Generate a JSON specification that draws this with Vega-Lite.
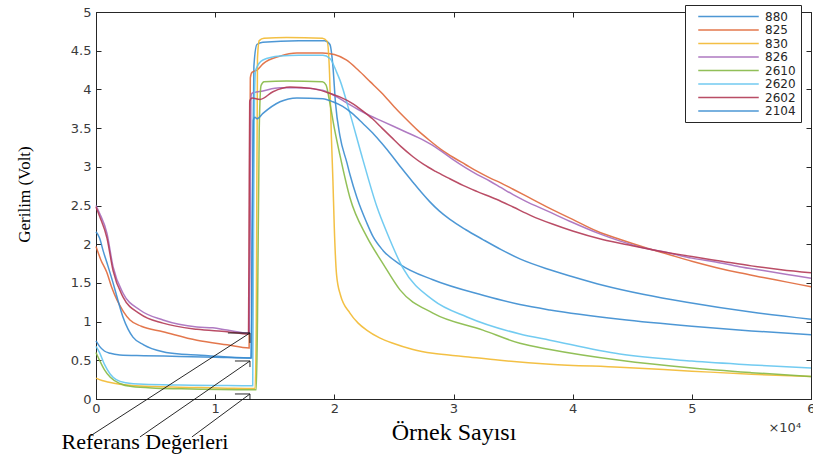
{
  "$schema": "https://vega.github.io/schema/vega-lite/v6.json",
  "width": 715,
  "height": 387,
  "autosize": {"type": "none"},
  "padding": {"left": 96, "top": 12, "right": 2, "bottom": 55},
  "background": "white",
  "config": {
    "view": {"stroke": "#262626", "strokeWidth": 1},
    "axis": {"grid": false, "domainColor": "#262626", "tickColor": "#262626", "labelColor": "#3a3a3a", "labelFont": "DejaVu Sans", "labelFontSize": 13}
  },
  "resolve": {"axis": {"x": "independent", "y": "independent"}},
  "layer": [
    {
      "data": {"values": [
        {"s":"880","x":0,"y":0.75},{"s":"880","x":300,"y":0.68},{"s":"880","x":700,"y":0.62},{"s":"880","x":1200,"y":0.59},{"s":"880","x":2000,"y":0.57},{"s":"880","x":4000,"y":0.56},{"s":"880","x":7000,"y":0.55},{"s":"880","x":10000,"y":0.54},{"s":"880","x":13000,"y":0.53},{"s":"880","x":13100,"y":2.0},{"s":"880","x":13250,"y":4.3},{"s":"880","x":13500,"y":4.58},{"s":"880","x":14000,"y":4.61},{"s":"880","x":17000,"y":4.63},{"s":"880","x":19200,"y":4.63},{"s":"880","x":19630,"y":4.58},{"s":"880","x":19880,"y":4.3},{"s":"880","x":20100,"y":3.82},{"s":"880","x":20470,"y":3.4},{"s":"880","x":21060,"y":3.05},{"s":"880","x":21310,"y":2.9},{"s":"880","x":21900,"y":2.6},{"s":"880","x":22710,"y":2.28},{"s":"880","x":23240,"y":2.1},{"s":"880","x":24080,"y":1.92},{"s":"880","x":25510,"y":1.74},{"s":"880","x":28270,"y":1.54},{"s":"880","x":32470,"y":1.34},{"s":"880","x":35570,"y":1.22},{"s":"880","x":38090,"y":1.15},{"s":"880","x":43960,"y":1.03},{"s":"880","x":50000,"y":0.94},{"s":"880","x":55000,"y":0.88},{"s":"880","x":60000,"y":0.83},
        {"s":"825","x":0,"y":1.97},{"s":"825","x":400,"y":1.8},{"s":"825","x":920,"y":1.63},{"s":"825","x":1300,"y":1.45},{"s":"825","x":1760,"y":1.28},{"s":"825","x":2300,"y":1.13},{"s":"825","x":2850,"y":1.02},{"s":"825","x":3800,"y":0.94},{"s":"825","x":5620,"y":0.87},{"s":"825","x":8470,"y":0.76},{"s":"825","x":11000,"y":0.7},{"s":"825","x":12850,"y":0.66},{"s":"825","x":12900,"y":2.5},{"s":"825","x":12950,"y":4.15},{"s":"825","x":13090,"y":4.22},{"s":"825","x":13510,"y":4.25},{"s":"825","x":14010,"y":4.33},{"s":"825","x":15440,"y":4.43},{"s":"825","x":16860,"y":4.47},{"s":"825","x":19000,"y":4.47},{"s":"825","x":20000,"y":4.45},{"s":"825","x":21000,"y":4.38},{"s":"825","x":22000,"y":4.25},{"s":"825","x":23000,"y":4.1},{"s":"825","x":24000,"y":3.95},{"s":"825","x":25000,"y":3.78},{"s":"825","x":26000,"y":3.62},{"s":"825","x":27000,"y":3.47},{"s":"825","x":28000,"y":3.34},{"s":"825","x":29000,"y":3.22},{"s":"825","x":30000,"y":3.12},{"s":"825","x":31000,"y":3.03},{"s":"825","x":32000,"y":2.94},{"s":"825","x":33000,"y":2.86},{"s":"825","x":34000,"y":2.79},{"s":"825","x":35000,"y":2.71},{"s":"825","x":36000,"y":2.63},{"s":"825","x":38000,"y":2.47},{"s":"825","x":40000,"y":2.32},{"s":"825","x":42000,"y":2.17},{"s":"825","x":44000,"y":2.06},{"s":"825","x":46000,"y":1.96},{"s":"825","x":48000,"y":1.87},{"s":"825","x":50000,"y":1.78},{"s":"825","x":52000,"y":1.7},{"s":"825","x":54000,"y":1.63},{"s":"825","x":56000,"y":1.57},{"s":"825","x":58000,"y":1.51},{"s":"825","x":60000,"y":1.45},
        {"s":"830","x":0,"y":0.27},{"s":"830","x":500,"y":0.24},{"s":"830","x":1000,"y":0.22},{"s":"830","x":2000,"y":0.19},{"s":"830","x":3000,"y":0.175},{"s":"830","x":5000,"y":0.16},{"s":"830","x":8000,"y":0.15},{"s":"830","x":11000,"y":0.14},{"s":"830","x":13350,"y":0.135},{"s":"830","x":13450,"y":1.0},{"s":"830","x":13550,"y":4.4},{"s":"830","x":13700,"y":4.63},{"s":"830","x":14100,"y":4.66},{"s":"830","x":16000,"y":4.67},{"s":"830","x":19000,"y":4.66},{"s":"830","x":19400,"y":4.62},{"s":"830","x":19600,"y":4.2},{"s":"830","x":19750,"y":3.4},{"s":"830","x":19880,"y":2.83},{"s":"830","x":20000,"y":2.2},{"s":"830","x":20190,"y":1.6},{"s":"830","x":20500,"y":1.35},{"s":"830","x":21310,"y":1.11},{"s":"830","x":22000,"y":0.98},{"s":"830","x":22710,"y":0.89},{"s":"830","x":23800,"y":0.79},{"s":"830","x":24920,"y":0.72},{"s":"830","x":26600,"y":0.64},{"s":"830","x":28270,"y":0.59},{"s":"830","x":30800,"y":0.55},{"s":"830","x":33900,"y":0.5},{"s":"830","x":38090,"y":0.45},{"s":"830","x":43960,"y":0.41},{"s":"830","x":50000,"y":0.36},{"s":"830","x":55000,"y":0.32},{"s":"830","x":60000,"y":0.29},
        {"s":"826","x":0,"y":2.5},{"s":"826","x":300,"y":2.4},{"s":"826","x":920,"y":2.14},{"s":"826","x":1430,"y":1.71},{"s":"826","x":2260,"y":1.37},{"s":"826","x":3690,"y":1.15},{"s":"826","x":5620,"y":1.02},{"s":"826","x":8470,"y":0.93},{"s":"826","x":9800,"y":0.92},{"s":"826","x":11000,"y":0.89},{"s":"826","x":12850,"y":0.85},{"s":"826","x":12950,"y":2.5},{"s":"826","x":13000,"y":3.9},{"s":"826","x":13090,"y":3.95},{"s":"826","x":14010,"y":3.98},{"s":"826","x":15440,"y":4.02},{"s":"826","x":16860,"y":4.02},{"s":"826","x":19000,"y":3.99},{"s":"826","x":20000,"y":3.92},{"s":"826","x":21000,"y":3.83},{"s":"826","x":22000,"y":3.74},{"s":"826","x":23000,"y":3.66},{"s":"826","x":24000,"y":3.59},{"s":"826","x":25000,"y":3.52},{"s":"826","x":26000,"y":3.45},{"s":"826","x":27000,"y":3.38},{"s":"826","x":28000,"y":3.3},{"s":"826","x":29000,"y":3.2},{"s":"826","x":30000,"y":3.09},{"s":"826","x":31000,"y":2.99},{"s":"826","x":32000,"y":2.9},{"s":"826","x":33000,"y":2.82},{"s":"826","x":34000,"y":2.73},{"s":"826","x":35000,"y":2.64},{"s":"826","x":36000,"y":2.56},{"s":"826","x":38000,"y":2.42},{"s":"826","x":40000,"y":2.28},{"s":"826","x":42000,"y":2.15},{"s":"826","x":44000,"y":2.04},{"s":"826","x":46000,"y":1.95},{"s":"826","x":48000,"y":1.89},{"s":"826","x":50000,"y":1.82},{"s":"826","x":52000,"y":1.77},{"s":"826","x":54000,"y":1.71},{"s":"826","x":56000,"y":1.66},{"s":"826","x":58000,"y":1.61},{"s":"826","x":60000,"y":1.56},
        {"s":"2610","x":0,"y":0.6},{"s":"2610","x":300,"y":0.5},{"s":"2610","x":700,"y":0.38},{"s":"2610","x":1200,"y":0.28},{"s":"2610","x":2000,"y":0.2},{"s":"2610","x":3000,"y":0.16},{"s":"2610","x":5000,"y":0.14},{"s":"2610","x":8000,"y":0.13},{"s":"2610","x":13450,"y":0.12},{"s":"2610","x":13550,"y":1.0},{"s":"2610","x":13700,"y":3.5},{"s":"2610","x":13850,"y":4.05},{"s":"2610","x":14100,"y":4.1},{"s":"2610","x":16000,"y":4.11},{"s":"2610","x":19000,"y":4.1},{"s":"2610","x":19300,"y":4.06},{"s":"2610","x":19630,"y":3.82},{"s":"2610","x":20000,"y":3.5},{"s":"2610","x":20470,"y":3.15},{"s":"2610","x":21310,"y":2.6},{"s":"2610","x":22710,"y":2.1},{"s":"2610","x":24080,"y":1.75},{"s":"2610","x":25510,"y":1.41},{"s":"2610","x":28270,"y":1.11},{"s":"2610","x":32470,"y":0.89},{"s":"2610","x":35570,"y":0.72},{"s":"2610","x":38090,"y":0.64},{"s":"2610","x":43960,"y":0.5},{"s":"2610","x":50000,"y":0.4},{"s":"2610","x":55000,"y":0.34},{"s":"2610","x":60000,"y":0.29},
        {"s":"2620","x":0,"y":0.68},{"s":"2620","x":300,"y":0.6},{"s":"2620","x":700,"y":0.45},{"s":"2620","x":1200,"y":0.32},{"s":"2620","x":1700,"y":0.25},{"s":"2620","x":2500,"y":0.21},{"s":"2620","x":4000,"y":0.19},{"s":"2620","x":7000,"y":0.18},{"s":"2620","x":10000,"y":0.175},{"s":"2620","x":13150,"y":0.17},{"s":"2620","x":13200,"y":1.5},{"s":"2620","x":13300,"y":3.9},{"s":"2620","x":13400,"y":4.25},{"s":"2620","x":14010,"y":4.38},{"s":"2620","x":15440,"y":4.43},{"s":"2620","x":17000,"y":4.44},{"s":"2620","x":19040,"y":4.44},{"s":"2620","x":19630,"y":4.4},{"s":"2620","x":20200,"y":4.22},{"s":"2620","x":20470,"y":4.12},{"s":"2620","x":21310,"y":3.69},{"s":"2620","x":22400,"y":3.09},{"s":"2620","x":23580,"y":2.48},{"s":"2620","x":24410,"y":2.15},{"s":"2620","x":25760,"y":1.69},{"s":"2620","x":28270,"y":1.28},{"s":"2620","x":31130,"y":1.06},{"s":"2620","x":35570,"y":0.84},{"s":"2620","x":38090,"y":0.76},{"s":"2620","x":43960,"y":0.58},{"s":"2620","x":50000,"y":0.49},{"s":"2620","x":55000,"y":0.44},{"s":"2620","x":60000,"y":0.4},
        {"s":"2602","x":0,"y":2.48},{"s":"2602","x":300,"y":2.36},{"s":"2602","x":920,"y":2.08},{"s":"2602","x":1430,"y":1.66},{"s":"2602","x":2260,"y":1.32},{"s":"2602","x":3690,"y":1.1},{"s":"2602","x":5620,"y":0.98},{"s":"2602","x":8470,"y":0.9},{"s":"2602","x":11000,"y":0.87},{"s":"2602","x":12800,"y":0.84},{"s":"2602","x":12850,"y":2.5},{"s":"2602","x":12900,"y":3.85},{"s":"2602","x":13090,"y":3.89},{"s":"2602","x":13760,"y":3.87},{"s":"2602","x":14850,"y":3.97},{"s":"2602","x":16280,"y":4.03},{"s":"2602","x":18210,"y":4.01},{"s":"2602","x":19400,"y":3.96},{"s":"2602","x":20500,"y":3.9},{"s":"2602","x":21500,"y":3.82},{"s":"2602","x":22400,"y":3.72},{"s":"2602","x":23200,"y":3.62},{"s":"2602","x":24000,"y":3.5},{"s":"2602","x":24800,"y":3.38},{"s":"2602","x":25600,"y":3.26},{"s":"2602","x":26600,"y":3.13},{"s":"2602","x":27500,"y":3.03},{"s":"2602","x":28500,"y":2.94},{"s":"2602","x":29500,"y":2.86},{"s":"2602","x":30800,"y":2.76},{"s":"2602","x":32000,"y":2.68},{"s":"2602","x":33600,"y":2.58},{"s":"2602","x":35000,"y":2.48},{"s":"2602","x":36500,"y":2.37},{"s":"2602","x":38300,"y":2.26},{"s":"2602","x":40000,"y":2.17},{"s":"2602","x":42500,"y":2.06},{"s":"2602","x":45000,"y":1.98},{"s":"2602","x":47000,"y":1.92},{"s":"2602","x":50000,"y":1.84},{"s":"2602","x":52500,"y":1.78},{"s":"2602","x":55000,"y":1.72},{"s":"2602","x":57500,"y":1.67},{"s":"2602","x":60000,"y":1.63},
        {"s":"2104","x":0,"y":2.16},{"s":"2104","x":300,"y":2.08},{"s":"2104","x":590,"y":1.92},{"s":"2104","x":1000,"y":1.72},{"s":"2104","x":1430,"y":1.5},{"s":"2104","x":1850,"y":1.27},{"s":"2104","x":2260,"y":1.06},{"s":"2104","x":2700,"y":0.9},{"s":"2104","x":3100,"y":0.8},{"s":"2104","x":4000,"y":0.7},{"s":"2104","x":5620,"y":0.61},{"s":"2104","x":7000,"y":0.58},{"s":"2104","x":8470,"y":0.57},{"s":"2104","x":12900,"y":0.53},{"s":"2104","x":13050,"y":0.53},{"s":"2104","x":13100,"y":2.0},{"s":"2104","x":13200,"y":3.6},{"s":"2104","x":13340,"y":3.64},{"s":"2104","x":13510,"y":3.62},{"s":"2104","x":14010,"y":3.69},{"s":"2104","x":15440,"y":3.84},{"s":"2104","x":16860,"y":3.89},{"s":"2104","x":19040,"y":3.88},{"s":"2104","x":19880,"y":3.84},{"s":"2104","x":20700,"y":3.78},{"s":"2104","x":21500,"y":3.69},{"s":"2104","x":22400,"y":3.56},{"s":"2104","x":23200,"y":3.44},{"s":"2104","x":24000,"y":3.3},{"s":"2104","x":24800,"y":3.15},{"s":"2104","x":25600,"y":2.99},{"s":"2104","x":26600,"y":2.8},{"s":"2104","x":27300,"y":2.67},{"s":"2104","x":28000,"y":2.55},{"s":"2104","x":28800,"y":2.43},{"s":"2104","x":29700,"y":2.32},{"s":"2104","x":31000,"y":2.19},{"s":"2104","x":32470,"y":2.06},{"s":"2104","x":34000,"y":1.93},{"s":"2104","x":35570,"y":1.81},{"s":"2104","x":38090,"y":1.67},{"s":"2104","x":40000,"y":1.58},{"s":"2104","x":42530,"y":1.47},{"s":"2104","x":46000,"y":1.35},{"s":"2104","x":49580,"y":1.25},{"s":"2104","x":55110,"y":1.12},{"s":"2104","x":60000,"y":1.03}
      ]},
      "mark": {"type": "line", "strokeWidth": 1.5, "interpolate": "monotone", "opacity": 0.9},
      "encoding": {
        "x": {"field": "x", "type": "quantitative", "scale": {"domain": [0, 60000], "nice": false, "zero": false},
          "axis": {"values": [0,10000,20000,30000,40000,50000,60000], "labelExpr": "'' + datum.value/10000", "tickSize": -5, "labelPadding": 8, "labelFlush": false,
            "title": "Örnek Sayısı", "titleFont": "Liberation Serif", "titleFontSize": 24, "titleFontWeight": "normal", "titleColor": "#000000", "titlePadding": 5}},
        "y": {"field": "y", "type": "quantitative", "scale": {"domain": [0, 5], "nice": false, "zero": false},
          "axis": {"values": [0,0.5,1,1.5,2,2.5,3,3.5,4,4.5,5], "labelExpr": "'' + datum.value", "tickSize": -5, "labelPadding": 10,
            "title": "Gerilim (Volt)", "titleFont": "Liberation Serif", "titleFontSize": 17, "titleFontWeight": "normal", "titleColor": "#000000",
            "titleX": -72, "titleY": 182, "titleAngle": -90, "titleAlign": "center", "titleBaseline": "middle"}},
        "color": {"field": "s", "type": "nominal",
          "scale": {"domain": ["880","825","830","826","2610","2620","2602","2104"],
                    "range": ["#3a8cd0","#e0683a","#f2b930","#a66bbb","#86b946","#63c5ef","#b23a55","#3a8cd0"]},
          "legend": {"title": null, "orient": "none", "legendX": 589, "legendY": -7,
            "symbolType": "M-5.5,0H5.5", "symbolSize": 121, "symbolStrokeWidth": 1.5, "symbolOffset": 32, "labelOffset": 30,
            "padding": 5, "rowPadding": 0.5, "fillColor": "white", "strokeColor": "#262626",
            "labelFont": "DejaVu Sans", "labelFontSize": 12, "labelColor": "#262626",
            "labelExpr": "datum.label + '\u00a0\u00a0\u00a0'"}}
      }
    },
    {
      "data": {"values": [
        {"x": -600, "y": -0.49, "x2": 12920, "y2": 0.853},
        {"x": 11070, "y": 0.853, "x2": 12920, "y2": 0.853},
        {"x": 12920, "y": 0.853, "x2": 12920, "y2": 0.724},
        {"x": 3690, "y": -0.49, "x2": 12920, "y2": 0.491},
        {"x": 11660, "y": 0.491, "x2": 12920, "y2": 0.491},
        {"x": 12920, "y": 0.491, "x2": 12920, "y2": 0.413},
        {"x": 8050, "y": -0.49, "x2": 12920, "y2": 0.065},
        {"x": 11660, "y": 0.065, "x2": 12920, "y2": 0.065},
        {"x": 12920, "y": 0.065, "x2": 12920, "y2": -0.013}
      ]},
      "mark": {"type": "rule", "color": "#111111", "strokeWidth": 0.9, "clip": false},
      "encoding": {
        "x": {"field": "x", "type": "quantitative", "axis": {"orient": "top", "values": [0,10000,20000,30000,40000,50000,60000], "labels": false, "title": null, "tickSize": -5, "domain": false}},
        "y": {"field": "y", "type": "quantitative", "axis": {"orient": "right", "values": [0,0.5,1,1.5,2,2.5,3,3.5,4,4.5,5], "labels": false, "title": null, "tickSize": -5, "domain": false}},
        "x2": {"field": "x2"},
        "y2": {"field": "y2"}
      }
    },
    {
      "data": {"values": [{}]},
      "mark": {"type": "text", "font": "Liberation Serif", "fontSize": 22, "color": "#000000", "align": "center", "baseline": "middle", "clip": false},
      "encoding": {
        "x": {"datum": 4110, "type": "quantitative", "axis": null},
        "y": {"datum": -0.556, "type": "quantitative", "axis": null},
        "text": {"value": "Referans Değerleri"}
      }
    },
    {
      "data": {"values": [{}]},
      "mark": {"type": "text", "font": "DejaVu Sans", "fontSize": 13, "color": "#3a3a3a", "align": "center", "baseline": "middle", "clip": false},
      "encoding": {
        "x": {"datum": 57800, "type": "quantitative", "axis": null},
        "y": {"datum": -0.375, "type": "quantitative", "axis": null},
        "text": {"value": "×10⁴"}
      }
    }
  ]
}
